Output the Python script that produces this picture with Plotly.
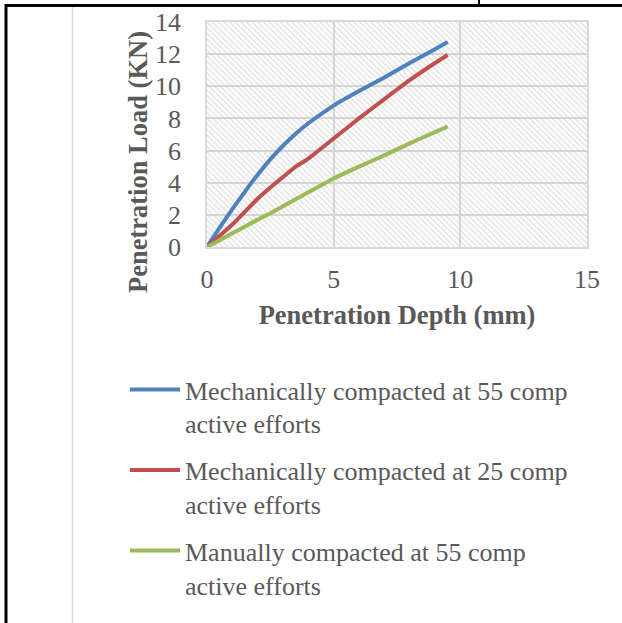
import plotly.graph_objects as go

# penetration test readings (mm, KN)
depth = [0, 0.5, 1, 1.5, 2, 2.5, 3, 3.5, 4, 5, 6, 7, 8, 9, 9.5]
mech_55 = [0, 1.2, 2.35, 3.45, 4.5, 5.45, 6.3, 7.05, 7.7, 8.8, 9.7, 10.55, 11.45, 12.3, 12.75]
mech_25 = [0, 0.7, 1.4, 2.2, 3.0, 3.7, 4.35, 5.0, 5.5, 6.75, 8.0, 9.2, 10.38, 11.45, 11.95]
manual_55 = [0, 0.42, 0.85, 1.27, 1.7, 2.1, 2.53, 2.97, 3.4, 4.26, 5.0, 5.7, 6.45, 7.15, 7.5]

series_names = ["Mechanically compacted at 55 comp<br>active efforts",
                "Mechanically compacted at 25 comp<br>active efforts",
                "Manually compacted at 55 comp<br>active efforts"]
colors = ["#4F81BD", "#C0504D", "#9BBB59"]

x_range = [0, 15]
y_range = [0, 14]

W, H = 622, 623
L, R, T, B = 207, 587, 22, 247


def px(p):
    return (p - L) / (R - L)


def py(p):
    return (B - p) / (B - T)


font = "Liberation Serif, Times New Roman, serif"
grey = "#595959"

fig = go.Figure()

# hatched plot area
fig.add_trace(go.Scatter(
    x=[x_range[0], x_range[1], x_range[1], x_range[0], x_range[0]],
    y=[y_range[0], y_range[0], y_range[1], y_range[1], y_range[0]],
    mode="lines", fill="toself", line=dict(width=0),
    fillcolor="rgba(0,0,0,0)",
    fillpattern=dict(shape="\\", fgcolor="#c0c0c0", bgcolor="rgba(0,0,0,0)",
                     size=4, solidity=0.33),
    showlegend=False, hoverinfo="skip"))

for name, vals, c in zip(series_names, [mech_55, mech_25, manual_55], colors):
    fig.add_trace(go.Scatter(x=depth, y=vals, mode="lines", name=name,
                             legendgroup=name,
                             line=dict(color=c, width=4, shape="spline", smoothing=0.5)))

# table borders around the chart
shapes = [
    dict(type="rect", xref="paper", yref="paper", x0=px(5), x1=px(640), y0=py(4), y1=py(7),
         fillcolor="black", line=dict(width=0), layer="above"),
    dict(type="rect", xref="paper", yref="paper", x0=px(4.5), x1=px(7.5), y0=py(4), y1=py(640),
         fillcolor="black", line=dict(width=0), layer="above"),
    dict(type="rect", xref="paper", yref="paper", x0=px(478), x1=px(480), y0=py(-5), y1=py(5),
         fillcolor="black", line=dict(width=0), layer="above"),
    dict(type="line", xref="paper", yref="paper", x0=px(72.5), x1=px(72.5), y0=py(7), y1=py(640),
         line=dict(color="#d9d9d9", width=1.5)),
]

fig.update_layout(
    width=W, height=H,
    margin=dict(l=L, r=W - R, t=T, b=H - B, autoexpand=False),
    paper_bgcolor="white", plot_bgcolor="white",
    font=dict(family=font, color=grey, size=26),
    shapes=shapes,
    showlegend=True,
    legend=dict(x=px(125), y=py(366), xanchor="left", yanchor="top",
                font=dict(family=font, size=26, color=grey),
                itemwidth=50,
                valign="top", tracegroupgap=10, bgcolor="rgba(0,0,0,0)"),
    annotations=[dict(text="<b>Penetration Load (KN)</b>", textangle=-90,
                      xref="paper", yref="paper", x=px(138), y=py(162),
                      xanchor="center", yanchor="middle", showarrow=False,
                      font=dict(family=font, size=26.5, color=grey))],
)

fig.update_xaxes(range=x_range, dtick=5, showgrid=True, gridcolor="#d9d9d9", gridwidth=2,
                 zeroline=False, showline=True, mirror=True, linecolor="#d9d9d9", linewidth=1.5,
                 ticks="outside", ticklen=8, tickcolor="rgba(0,0,0,0)", automargin=False,
                 tickfont=dict(size=26),
                 title=dict(text="<b>Penetration Depth (mm)</b>", standoff=12,
                            font=dict(family=font, size=26.5, color=grey)))
fig.update_yaxes(range=y_range, dtick=2, showgrid=True, gridcolor="#d9d9d9", gridwidth=2,
                 zeroline=False, showline=True, mirror=True, linecolor="#d9d9d9", linewidth=1.5,
                 ticks="outside", ticklen=19, tickcolor="rgba(0,0,0,0)", automargin=False,
                 tickfont=dict(size=26))

fig.write_html("out.html", config={"displayModeBar": False},
               post_script="document.body.style.margin='0';document.body.style.overflow='hidden';")
